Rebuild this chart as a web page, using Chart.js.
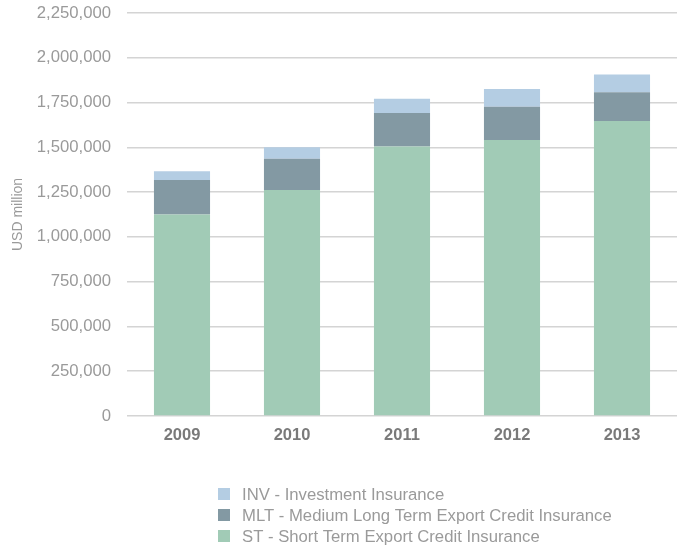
<!DOCTYPE html>
<html>
<head>
<meta charset="utf-8">
<script src="https://cdn.jsdelivr.net/npm/chart.js@4"></script>
<style>
    html, body { margin: 0; padding: 0; background: #fff; }
    #wrap { width: 677px; height: 548px; position: relative; }
</style>
</head>
<body>
<div id="wrap"><canvas id="chart"></canvas></div>
<script>
// Export credit insurance by type, USD million
const years = ['2009', '2010', '2011', '2012', '2013'];
const stValues = [1125000, 1262000, 1505000, 1541000, 1647000];
const mltValues = [192000, 174000, 186000, 186000, 160000];
const invValues = [50000, 64000, 80000, 98000, 99000];
const yTicks = [0, 250000, 500000, 750000, 1000000, 1250000, 1500000, 1750000, 2000000, 2250000];

const seriesLabels = {
    st: 'ST - Short Term Export Credit Insurance',
    mlt: 'MLT - Medium Long Term Export Credit Insurance',
    inv: 'INV - Investment Insurance'
};

const gray = '#9a9a9a';
const fontFamily = '"Liberation Sans", Arial, sans-serif';

// legend drawn stacked under the chart, top series first
const stackedLegend = {
    id: 'stackedLegend',
    afterDraw(chart) {
        const ctx = chart.ctx;
        const items = chart.data.datasets.slice().reverse();
        ctx.save();
        ctx.font = '16.7px ' + fontFamily;
        ctx.textBaseline = 'middle';
        items.forEach((ds, i) => {
            const y = 494 + i * 21;
            ctx.fillStyle = ds.backgroundColor;
            ctx.fillRect(218, y - 6, 12, 12);
            ctx.fillStyle = gray;
            ctx.fillText(ds.label, 242, y + 1);
        });
        ctx.restore();
    }
};

new Chart(document.getElementById('chart'), {
    type: 'bar',
    data: {
        labels: years,
        datasets: [
            { label: seriesLabels.st, data: stValues, backgroundColor: '#a1cbb6' },
            { label: seriesLabels.mlt, data: mltValues, backgroundColor: '#8399a3' },
            { label: seriesLabels.inv, data: invValues, backgroundColor: '#b4cde3' }
        ]
    },
    options: {
        responsive: true,
        maintainAspectRatio: false,
        animation: false,
        layout: { padding: { top: 13, right: 0, bottom: 102, left: 0 } },
        datasets: { bar: { categoryPercentage: 1, barPercentage: 0.51 } },
        plugins: {
            legend: { display: false },
            tooltip: { enabled: false }
        },
        scales: {
            x: {
                stacked: true,
                grid: { display: false },
                border: { display: false },
                ticks: {
                    color: '#7a7a7a',
                    padding: 2,
                    font: { family: fontFamily, size: 16.5, weight: 'bold' }
                },
                afterFit: s => { s.height = 30; }
            },
            y: {
                stacked: true,
                min: 0,
                max: 2250000,
                afterBuildTicks: s => { s.ticks = yTicks.map(v => ({ value: v })); },
                grid: { color: '#d4d4d4', lineWidth: 1.5, drawTicks: false },
                border: { display: false },
                ticks: {
                    color: gray,
                    padding: 16,
                    font: { family: fontFamily, size: 16.7 },
                    callback: v => v.toLocaleString('en-US')
                },
                title: {
                    display: true,
                    text: 'USD million',
                    color: gray,
                    padding: { top: 10, bottom: 0 },
                    font: { family: fontFamily, size: 14 }
                },
                afterFit: s => {
                    s.width = 127;
                    s.paddingTop = 0;
                    s.paddingBottom = 0;
                }
            }
        }
    },
    plugins: [stackedLegend]
});
</script>
</body>
</html>
